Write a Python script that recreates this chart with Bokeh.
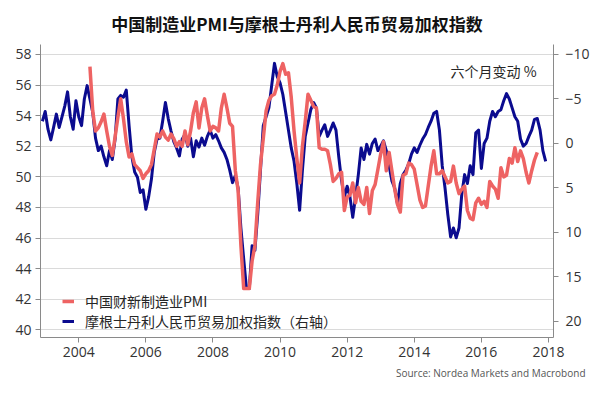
from bokeh.plotting import figure
from bokeh.models import Range1d, LinearAxis, FixedTicker, Legend, LegendItem, Label, Title, ColumnDataSource
from bokeh.embed import file_html
from bokeh.resources import INLINE

# ---------------- data ----------------
title_text = "中国制造业PMI与摩根士丹利人民币贸易加权指数"
pmi_label = "中国财新制造业PMI"
twi_label = "摩根士丹利人民币贸易加权指数（右轴）"
unit_note = "六个月变动 %"
source_note = "Source: Nordea Markets and Macrobond"

# Caixin (HSBC) China manufacturing PMI, monthly, Apr 2004 .. Aug 2017
pmi_start = (2004, 4)
pmi = [
    57.2, 54.3, 53.0, 53.2, 53.6, 54.1, 53.0, 52.0, 51.4,
    52.6, 53.9, 55.1, 53.8, 52.3, 51.3, 51.5, 50.8, 50.6, 50.4, 49.9, 50.2,
    50.4, 50.8, 51.8, 52.8, 52.6, 53.0, 52.6, 52.4, 52.8, 52.5, 52.0, 52.3,
    52.0, 53.0, 52.1, 53.0, 54.2, 54.9, 53.2, 54.5, 55.1, 54.0, 53.0, 53.3,
    53.2, 53.0, 54.5, 55.4, 54.5, 53.5, 53.3, 50.4, 49.1, 45.5, 42.7, 42.7,
    42.7, 44.5, 45.5, 48.3, 50.8, 52.5, 54.3, 55.0, 55.3, 55.4, 56.0, 56.9,
    57.4, 56.7, 56.8, 55.2, 53.0, 51.2, 49.6, 52.0, 53.6, 55.4, 55.0, 54.6,
    54.5, 51.9, 51.8, 51.8, 51.7, 50.8, 49.7, 49.9, 50.2, 50.3, 47.8, 48.7,
    48.8, 49.6, 48.3, 49.3, 48.4, 48.2, 49.3, 47.6, 49.1, 49.5, 50.5, 51.5,
    52.3, 50.4, 51.6, 50.4, 49.2, 48.2, 47.7, 50.1, 50.2, 50.9, 50.8, 50.5,
    49.5, 48.5, 48.0, 48.1, 49.4, 50.7, 51.7, 50.2, 50.2, 50.4, 50.0, 49.6,
    49.7, 50.7, 49.6, 48.9, 49.2, 49.4, 47.8, 47.3, 47.2, 48.3, 48.6, 48.2,
    48.4, 48.0, 49.7, 49.4, 49.2, 48.6, 50.6, 50.0, 50.1, 51.2, 50.9, 51.9,
    51.0, 51.7, 51.2, 50.3, 49.6, 50.4, 51.1, 51.6,
]

# Morgan Stanley RMB trade-weighted index, 6-month change %, monthly, Nov 2002 .. Nov 2017
twi_start = (2002, 11)
twi = [
    -2.5, -3.6, -1.6, -0.4, -1.8, -3.3, -1.8, -3.0, -4.2, -5.8, -3.0, -1.6,
    -4.8, -3.0, -2.0, -5.0, -6.5, -5.0, -3.5, -0.6, 0.8, 0.3, 1.5, 2.5,
    0.8, 1.8, -0.5, -5.0, -5.4, -5.2, -6.0, -2.0, 1.5, 3.2, 3.8, 5.5,
    5.2, 7.4, 6.0, 4.0, 1.0, -0.5, -0.6, -2.5, -4.6, -2.8, -1.4, -0.2,
    0.5, 1.4, -0.5, -1.0, 0.3, -0.6, 1.5, -0.3, 0.4, -0.6, 0.2, -0.8,
    -1.5, -0.6, -1.0, -0.3, 0.5, 1.0, 1.8, 3.0, 4.4, 3.6, 5.0, 9.5,
    13.0, 16.3, 16.3, 11.5, 12.0, 8.0, 3.0, -2.0, -3.0, -4.0, -6.5, -9.0,
    -7.5, -6.8, -5.5, -3.5, -1.5, 0.5, 2.0, 4.5, 7.5, 3.0, -0.8, -2.3,
    -3.8, -4.6, -4.0, -0.8, -1.5, -2.1, -0.8, -1.5, -2.3, -1.5, 1.5, 4.2,
    6.0, 4.8, 6.0, 8.3, 6.0, 3.5, 0.5, 1.8, 0.1, 1.2, 0.0, -0.5,
    0.8, 0.3, -0.3, 0.8, 2.5, 4.2, 5.0, 6.8, 4.5, 3.5, 3.0, 2.3,
    1.2, 0.5, 1.0, 0.2, -0.5, -1.0, -1.8, -2.5, -3.4, -3.6, -1.5, 2.5,
    5.0, 8.0, 10.5, 9.5, 10.6, 9.5, 5.7, 3.5, 4.5, 2.5, 3.5, -1.2,
    -1.5, 2.8, 0.0, -0.6, -2.5, -3.6, -3.0, -3.6, -3.8, -4.8, -5.6, -5.0,
    -4.0, -3.0, -2.5, -0.5, 0.3, 0.0, -0.8, -1.5, -2.7, -2.8, -1.5, 0.8,
    2.0,
]

left_ticks = [40, 42, 44, 46, 48, 50, 52, 54, 56, 58]
right_ticks = [-10, -5, 0, 5, 10, 15, 20]
year_ticks = [2004, 2006, 2008, 2010, 2012, 2014, 2016, 2018]


def month_end_years(start, n):
    y, m = start
    return [y + (m + i) / 12.0 for i in range(n)]


pmi_src = ColumnDataSource(dict(x=month_end_years(pmi_start, len(pmi)), y=pmi))
twi_src = ColumnDataSource(dict(x=month_end_years(twi_start, len(twi)), y=twi))

CJK = "Noto Sans CJK SC"
NUM = "Open Sans"

p = figure(width=592, height=388, output_backend="svg", toolbar_location=None,
           x_range=Range1d(2002.86, 2018.15), y_range=Range1d(39.5, 58.65),
           min_border_left=40, min_border_right=37, min_border_top=43, min_border_bottom=51)
p.extra_y_ranges = {"right": Range1d(start=21.8, end=-11.12)}

p.outline_line_color = None
p.background_fill_color = "white"
p.border_fill_color = "white"
p.xgrid.visible = False
p.ygrid.grid_line_color = "#dadada"
p.ygrid.grid_line_width = 1

p.title.text = title_text
p.title.align = "center"
p.title.offset = -6
p.title.text_font = CJK
p.title.text_font_size = "17px"
p.title.text_font_style = "bold"
p.title.text_color = "#111111"
p.title.standoff = 17

right_axis = LinearAxis(y_range_name="right")
p.add_layout(right_axis, "right")

p.xaxis.ticker = FixedTicker(ticks=year_ticks)
p.xaxis.major_label_overrides = {t: str(t) for t in year_ticks}
p.yaxis[0].ticker = FixedTicker(ticks=left_ticks)
right_axis.ticker = FixedTicker(ticks=right_ticks)

for ax in [p.xaxis[0], p.yaxis[0], right_axis]:
    ax.axis_line_color = "#8a8a8a"
    ax.axis_line_width = 1
    ax.major_tick_line_color = "#8a8a8a"
    ax.major_tick_out = 5
    ax.major_tick_in = 0
    ax.minor_tick_out = 0
    ax.minor_tick_in = 0
    ax.major_label_text_font = NUM
    ax.major_label_text_font_size = "14px"
    ax.major_label_text_color = "#333333"
    ax.major_label_standoff = 4

right_axis.major_label_text_align = "right"
right_axis.major_label_standoff = 7

r_twi = p.line("x", "y", source=twi_src, y_range_name="right",
               line_color="#0b0b8f", line_width=3, line_join="round")
r_pmi = p.line("x", "y", source=pmi_src,
               line_color="#ee6363", line_width=3.5, line_join="round")

legend = Legend(items=[LegendItem(label=pmi_label, renderers=[r_pmi]),
                       LegendItem(label=twi_label, renderers=[r_twi])],
                location=(22, 6), orientation="vertical",
                border_line_color=None, background_fill_alpha=0,
                glyph_width=12, glyph_height=20, label_height=20,
                spacing=0, padding=0, margin=0, label_standoff=11,
                label_text_font=CJK, label_text_font_size="14px",
                label_text_color="#262626")
p.add_layout(legend)

p.add_layout(Label(x=2015.08, y=56.91, text=unit_note, text_baseline="middle",
                   text_font=CJK, text_font_size="14px", text_color="#262626"))

src_title = Title(text=source_note, align="right", offset=-32, standoff=9,
                  text_font=NUM, text_font_size="10px", text_font_style="normal",
                  text_color="#555555")
p.add_layout(src_title, "below")

open("out.html", "w").write(file_html(p, INLINE))
